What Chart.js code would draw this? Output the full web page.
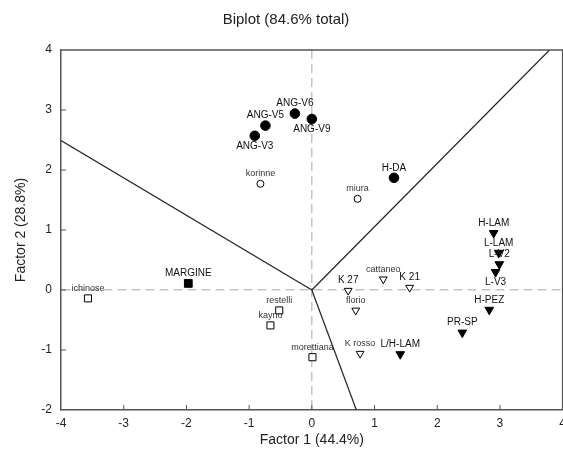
<!DOCTYPE html>
<html>
<head>
<meta charset="utf-8">
<script src="https://cdn.jsdelivr.net/npm/chart.js@4"></script>
<style>
  html, body { margin: 0; padding: 0; background: #fff; overflow: hidden; }
  #wrap { width: 572px; height: 465px; position: relative; }
</style>
</head>
<body>
<div id="wrap"><canvas id="biplot"></canvas></div>
<script>
// scores, grouped by marker
const filledCircleNames = ['ANG-V3', 'ANG-V5', 'ANG-V6', 'ANG-V9', 'H-DA'];
const filledCircleX = [-0.91, -0.74, -0.27, 0.0, 1.31];
const filledCircleY = [2.57, 2.74, 2.94, 2.85, 1.87];

const openCircleNames = ['korinne', 'miura'];
const openCircleX = [-0.82, 0.73];
const openCircleY = [1.77, 1.52];

const filledTriNames = ['H-LAM', 'L-LAM', 'L-V2', 'L-V3', 'H-PEZ', 'PR-SP', 'L/H-LAM'];
const filledTriX = [2.90, 2.98, 2.99, 2.93, 2.83, 2.40, 1.41];
const filledTriY = [0.95, 0.62, 0.43, 0.30, -0.33, -0.71, -1.07];

const openTriNames = ['K 27', 'cattaneo', 'K 21', 'florio', 'K rosso'];
const openTriX = [0.58, 1.14, 1.56, 0.70, 0.77];
const openTriY = [-0.01, 0.18, 0.04, -0.34, -1.06];

const openSquareNames = ['ichinose', 'restelli', 'kayno', 'morettiana'];
const openSquareX = [-3.57, -0.52, -0.66, 0.01];
const openSquareY = [-0.14, -0.34, -0.59, -1.12];

const filledSquareNames = ['MARGINE'];
const filledSquareX = [-1.97];
const filledSquareY = [0.11];

// biplot vector ends (lines start at origin)
const vectorX = [-4, 3.79, 0.71];
const vectorY = [2.49, 4, -2];

const xTicks = [-4, -3, -2, -1, 0, 1, 2, 3, 4];
const yTicks = [-2, -1, 0, 1, 2, 3, 4];

const labelsBelow = ['ANG-V3', 'ANG-V9', 'L-V3'];
const FONT = 'Arial, "Liberation Sans", sans-serif';

function pts(xs, ys, names) {
  return xs.map((x, i) => ({ x: x, y: ys[i], name: names[i] }));
}

function scatterSet(xs, ys, names, style, filled, r, rot) {
  return {
    type: 'scatter',
    data: pts(xs, ys, names),
    pointStyle: style,
    pointRadius: r,
    pointHoverRadius: r,
    rotation: rot || 0,
    backgroundColor: filled ? '#000' : '#fff',
    borderColor: '#000',
    borderWidth: 1,
    order: 1
  };
}

const vectorSets = vectorX.map((vx, i) => ({
  type: 'line',
  data: [{ x: 0, y: 0 }, { x: vx, y: vectorY[i] }],
  borderColor: '#222',
  borderWidth: 1.2,
  pointRadius: 0,
  fill: false,
  order: 5
}));

// point names next to markers
const pointLabels = {
  id: 'pointLabels',
  afterDatasetsDraw(chart) {
    const ctx = chart.ctx;
    ctx.save();
    ctx.textAlign = 'center';
    ctx.textBaseline = 'middle';
    chart.data.datasets.forEach((ds, di) => {
      if (ds.type !== 'scatter') return;
      const meta = chart.getDatasetMeta(di);
      meta.data.forEach((el, i) => {
        const name = ds.data[i].name;
        const lower = /[a-z]/.test(name);
        ctx.font = (lower ? '9px ' : '10px ') + FONT;
        ctx.fillStyle = lower ? '#333' : '#111';
        const dy = labelsBelow.includes(name) ? 10 : -10;
        ctx.fillText(name, el.x, el.y + dy);
      });
    });
    ctx.restore();
  }
};

// frame on top/right and inward tick marks
const frame = {
  id: 'frame',
  afterDraw(chart) {
    const { ctx, chartArea: a, scales } = chart;
    ctx.save();
    ctx.strokeStyle = '#555';
    ctx.lineWidth = 1.5;
    ctx.beginPath();
    ctx.moveTo(a.left, a.top);
    ctx.lineTo(a.right, a.top);
    ctx.lineTo(a.right, a.bottom);
    ctx.stroke();
    ctx.lineWidth = 1;
    ctx.beginPath();
    xTicks.slice(1, -1).forEach(v => {
      const px = scales.x.getPixelForValue(v);
      ctx.moveTo(px, a.bottom);
      ctx.lineTo(px, a.bottom - 5);
    });
    yTicks.slice(1, -1).forEach(v => {
      const py = scales.y.getPixelForValue(v);
      ctx.moveTo(a.left, py);
      ctx.lineTo(a.left + 5, py);
    });
    ctx.stroke();
    ctx.restore();
  }
};

const zeroGrid = (c) => (c.tick && c.tick.value === 0) ? '#c4c4c4' : 'rgba(0,0,0,0)';

new Chart(document.getElementById('biplot'), {
  data: {
    datasets: [
      scatterSet(filledCircleX, filledCircleY, filledCircleNames, 'circle', true, 4.8),
      scatterSet(openCircleX, openCircleY, openCircleNames, 'circle', false, 3.5),
      scatterSet(filledTriX, filledTriY, filledTriNames, 'triangle', true, 5, 180),
      scatterSet(openTriX, openTriY, openTriNames, 'triangle', false, 4.5, 180),
      scatterSet(openSquareX, openSquareY, openSquareNames, 'rect', false, 5),
      scatterSet(filledSquareX, filledSquareY, filledSquareNames, 'rect', true, 5.5)
    ].concat(vectorSets)
  },
  options: {
    responsive: true,
    maintainAspectRatio: false,
    animation: false,
    layout: { padding: 0 },
    plugins: {
      legend: { display: false },
      tooltip: { enabled: false },
      title: {
        display: true,
        text: 'Biplot (84.6% total)',
        color: '#222',
        font: { family: FONT, size: 15, weight: 'normal' },
        padding: { top: 11, bottom: 21 }
      }
    },
    scales: {
      x: {
        type: 'linear',
        min: -4,
        max: 4,
        afterFit: s => { s.height = 55; },
        afterBuildTicks: s => { s.ticks = xTicks.map(v => ({ value: v })); },
        ticks: { color: '#222', font: { family: FONT, size: 12 }, padding: 6 },
        grid: { color: zeroGrid, lineWidth: 1.5, drawTicks: false },
        border: { color: '#555', width: 1.5, dash: [9, 5] },
        title: {
          display: true,
          text: 'Factor 1 (44.4%)',
          color: '#222',
          font: { family: FONT, size: 14 },
          padding: { top: 0, bottom: 16 }
        }
      },
      y: {
        type: 'linear',
        min: -2,
        max: 4,
        afterFit: s => { s.width = 61; },
        afterBuildTicks: s => { s.ticks = yTicks.map(v => ({ value: v })); },
        ticks: { color: '#222', font: { family: FONT, size: 12 }, padding: 9 },
        grid: { color: zeroGrid, lineWidth: 1.5, drawTicks: false },
        border: { color: '#555', width: 1.5, dash: [9, 5] },
        title: {
          display: true,
          text: 'Factor 2 (28.8%)',
          color: '#222',
          font: { family: FONT, size: 14 },
          padding: { top: 13, bottom: 0 }
        }
      }
    }
  },
  plugins: [pointLabels, frame]
});
</script>
</body>
</html>
